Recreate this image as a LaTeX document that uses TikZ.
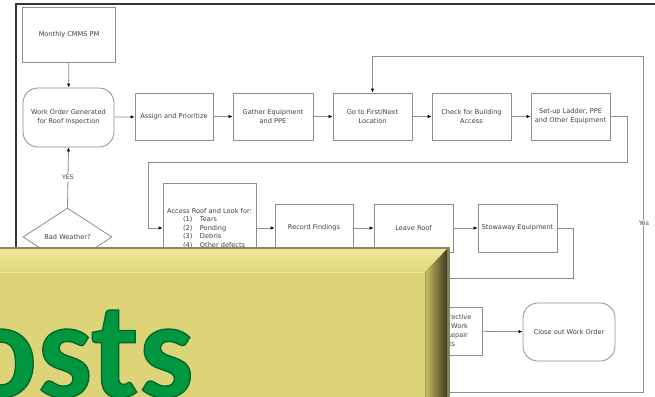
\documentclass[tikz,border=0pt]{standalone}
\usepackage{fontspec}
\usetikzlibrary{arrows.meta,shapes.geometric}
\newfontfamily\flowfam{DejaVu Sans}
\newfontfamily\bigfam{Carlito}
\definecolor{linegray}{HTML}{8E8E8E}
\definecolor{textgray}{HTML}{404040}
\definecolor{pageedge}{HTML}{353535}
\definecolor{yface}{HTML}{DDD479}
\definecolor{ytopA}{HTML}{EEE698}
\definecolor{ytopB}{HTML}{E0D77C}
\definecolor{yrightA}{HTML}{CBC165}
\definecolor{yrightB}{HTML}{3F3B20}
\definecolor{yshadow}{HTML}{8A845C}
\definecolor{bigGreen}{HTML}{00953F}
\newcommand\listrow[2]{\makebox[81pt][l]{\hspace*{14pt}\makebox[17pt][l]{#1}#2}}
\tikzset{
  flowfont/.style={font={\flowfam\fontsize{6.6}{9}\selectfont}},
  box/.style={draw=linegray, line width=0.8pt, minimum width=79pt, minimum height=47pt,
    inner sep=1pt, align=center, text=textgray, flowfont},
  term/.style={box, rounded corners=15pt},
  decide/.style={diamond, draw=linegray, line width=0.8pt, inner sep=0pt,
    minimum width=89pt, minimum height=58pt, text=textgray, flowfont},
  conn/.style={draw=linegray, line width=0.8pt, -{Latex[length=4pt,width=3.4pt,color=black]}},
  plainline/.style={draw=linegray, line width=0.8pt},
  lbl/.style={fill=white, inner sep=1pt, text=textgray, font={\flowfam\fontsize{6.2}{7}\selectfont}},
}
\begin{document}
\begin{tikzpicture}[x=1pt,y=-1pt]
\useasboundingbox (0,0) rectangle (655,396);
\clip (0,0) rectangle (655,396);
\fill[white] (0,0) rectangle (655,396);
% page edge
\draw[pageedge, line width=2pt] (16,260) -- (16,4) -- (660,4);
% nodes
\node[box, minimum width=93pt, minimum height=55pt] (mon) at (69,34.5) {Monthly CMMS PM};
\node[term, minimum width=91pt, minimum height=59pt] (wo) at (68.5,117.5) {Work Order Generated\\for Roof Inspection};
\node[box, minimum width=78pt] (assign) at (174,116.5) {Assign and Prioritize};
\node[box, minimum width=80pt] (gather) at (273,116.5) {Gather Equipment\\and PPE};
\node[box] (goto) at (372.5,116.5) {Go to First/Next\\Location};
\node[box] (check) at (471.5,116.5) {Check for Building\\Access};
\node[box] (setup) at (570.5,116.5) {Set-up Ladder, PPE\\and Other Equipment};
\node[decide] (bad) at (67.5,237) {Bad Weather?};
\node[box, minimum width=93pt, minimum height=90pt, font={\flowfam\fontsize{6.6}{8.5}\selectfont}] (access) at (209.5,228)
  {Access Roof and Look for:\\
   \listrow{(1)}{Tears}\\
   \listrow{(2)}{Ponding}\\
   \listrow{(3)}{Debris}\\
   \listrow{(4)}{Other defects}};
\node[box, minimum width=78pt, minimum height=48pt] (record) at (314,228) {Record Findings};
\node[box, minimum height=48pt] (leave) at (413.5,228) {Leave Roof};
\node[box, minimum height=48pt] (stow) at (517.5,228) {Stowaway Equipment};
\node[box, minimum height=48pt] (corr) at (442.5,331) {Create Corrective\\Action for Work\\Order to Repair\\Defects};
\node[term, minimum width=92pt, minimum height=58pt] (close) at (569,332) {Close out Work Order};
% coordinates
\coordinate (c1) at (627,162);
\coordinate (c2) at (148,228);
\coordinate (s1) at (573,278);
\coordinate (s2) at (420,278);
\coordinate (y0) at (420,392.5);
\coordinate (yc) at (643,56);
% connectors
\draw[conn] (mon) -- (wo);
\draw[conn] (wo) -- (assign);
\draw[conn] (assign) -- (gather);
\draw[conn] (gather) -- (goto);
\draw[conn] (goto) -- (check);
\draw[conn] (check) -- (setup);
\draw[conn] (setup.east) -| (c1) -| (c2) -- (access.west);
\draw[conn] (access.east |- record.west) -- (record.west);
\draw[conn] (record) -- (leave);
\draw[conn] (leave) -- (stow);
\draw[plainline] (stow.east) -| (s1) -- (s2);
\draw[conn] (corr) -- (close);
\draw[conn] (bad.north) -- (wo.south) node[lbl, pos=0.5] (yes1) {YES};
\draw[conn] (y0) -| (yc) -| (goto.north);
\node[lbl] (yes2) at (644,223) {Yes};
% yellow title box
\fill[yshadow] (-5,246.5) rectangle (449.5,400);
\shade[top color=ytopA, bottom color=ytopB] (-5,249) -- (447,249) -- (425,272) -- (-5,272) -- cycle;
\shade[left color=yrightA, right color=yrightB] (447,249) -- (447,400) -- (425,400) -- (425,272) -- cycle;
\fill[yface] (-5,272) rectangle (425,400);
\draw[ytopA, line width=0.8pt] (-5,272.4) -- (425,272.4);
\draw[yrightA!80!black, line width=0.6pt] (425,272.4) -- (425,400);
% big text
\node[anchor=base west, inner sep=0pt, text=bigGreen, font={\bigfam\bfseries\fontsize{138}{150}\selectfont}] (big) at (-37,397)
  {\special{pdf:literal direct 2 Tr 1.3 w 0 0.40 0.16 RG}osts\special{pdf:literal direct 0 Tr}};
\end{tikzpicture}
\end{document}
